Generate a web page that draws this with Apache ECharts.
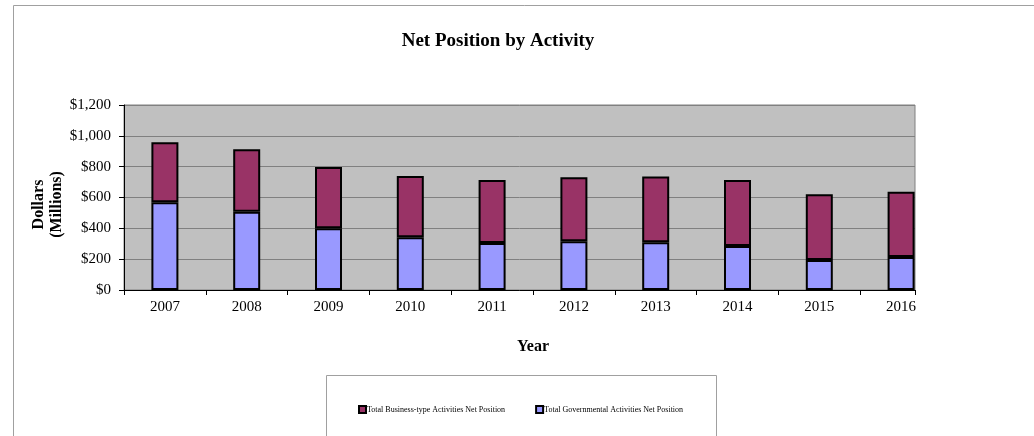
<!DOCTYPE html>
<html>
<head>
<meta charset="utf-8">
<script src="https://cdn.jsdelivr.net/npm/echarts@6/dist/echarts.min.js"></script>
<style>
  html, body { margin: 0; padding: 0; background: #fff; }
  #chart { width: 1034px; height: 436px; }
</style>
</head>
<body>
<div id="chart"></div>
<script>
// Fiscal years on the category axis
const years = ['2007', '2008', '2009', '2010', '2011', '2012', '2013', '2014', '2015', '2016'];
// Net position in millions of dollars
const governmental = [569, 508, 400, 342, 305, 316, 309, 285, 195, 214];
const businessType = [389, 405, 398, 397, 408, 415, 428, 428, 426, 424];

const seriesNames = {
  business: 'Total Business-type Activities Net Position',
  governmental: 'Total Governmental Activities Net Position'
};

// The shaded plot area stops part-way through the last year band
const shadedBands = 9.67;

const serif = '"Liberation Serif", "Times New Roman", serif';
const plotTop = 105, plotBottom = 146, plotLeft = 124;

const chart = echarts.init(document.getElementById('chart'), null, { renderer: 'canvas' });

chart.setOption({
  animation: false,
  backgroundColor: '#ffffff',
  textStyle: { fontFamily: serif, color: '#000' },
  title: {
    text: 'Net Position by Activity',
    left: 493,
    textAlign: 'center',
    top: 27,
    textStyle: { fontFamily: serif, fontSize: 19, fontWeight: 'bold', color: '#000' }
  },
  graphic: [
    {
      type: 'rect',
      silent: true,
      z: -10,
      shape: { x: 13.5, y: 5.5, width: 1040, height: 500 },
      style: { fill: 'none', stroke: '#a0a0a0', lineWidth: 1 }
    },
    {
      type: 'rect',
      silent: true,
      z: -5,
      shape: { x: 326.5, y: 375.5, width: 390, height: 80 },
      style: { fill: '#fff', stroke: '#a0a0a0', lineWidth: 1 }
    }
  ],
  legend: {
    data: [seriesNames.business, seriesNames.governmental],
    left: 353,
    top: 400,
    itemWidth: 7,
    itemHeight: 7,
    itemGap: 30,
    icon: 'rect',
    textStyle: { fontFamily: serif, fontSize: 8, color: '#000', padding: [0, 0, 0, -4] }
  },
  grid: [
    // shaded plot frame with value gridlines
    {
      left: plotLeft, right: 119, top: plotTop, bottom: plotBottom,
      show: true, backgroundColor: '#c0c0c0', borderColor: '#808080', borderWidth: 1
    },
    // year bands holding the stacked bars
    {
      left: plotLeft, right: 92, top: plotTop, bottom: plotBottom, show: false
    }
  ],
  xAxis: [
    {
      gridIndex: 0,
      type: 'value',
      min: 0,
      max: shadedBands,
      interval: 1,
      axisLine: { show: true, onZero: false, lineStyle: { color: '#000', width: 1 } },
      axisTick: { show: true, length: 5, lineStyle: { color: '#000' } },
      axisLabel: { show: false },
      splitLine: { show: false }
    },
    {
      gridIndex: 1,
      type: 'category',
      data: years,
      name: 'Year',
      nameLocation: 'middle',
      nameGap: 49,
      nameMoveOverlap: false,
      nameTextStyle: { fontFamily: serif, fontSize: 16, fontWeight: 'bold', color: '#000' },
      axisLine: { show: false },
      axisTick: { show: false },
      axisLabel: { fontFamily: serif, fontSize: 15, color: '#000', margin: 10 },
      splitLine: { show: false }
    }
  ],
  yAxis: [
    {
      gridIndex: 0,
      type: 'value',
      min: 0,
      max: 1200,
      interval: 200,
      name: 'Dollars\n(Millions)',
      nameLocation: 'middle',
      nameRotate: 90,
      nameGap: 58,
      nameMoveOverlap: false,
      nameTextStyle: {
        fontFamily: serif, fontSize: 16, fontWeight: 'bold', color: '#000',
        lineHeight: 18, padding: [0, 14, 0, 0]
      },
      axisLine: { show: true, lineStyle: { color: '#000', width: 1 } },
      axisTick: { show: true, length: 5, lineStyle: { color: '#000' } },
      axisLabel: {
        fontFamily: serif, fontSize: 15, color: '#000', margin: 13,
        formatter: v => '$' + v.toLocaleString('en-US')
      },
      splitLine: { show: true, lineStyle: { color: '#808080', width: 1 } }
    },
    {
      gridIndex: 1,
      type: 'value',
      min: 0,
      max: 1200,
      show: false,
      splitLine: { show: false }
    }
  ],
  series: [
    {
      name: seriesNames.governmental,
      type: 'bar',
      xAxisIndex: 1,
      yAxisIndex: 1,
      stack: 'net',
      data: governmental,
      barWidth: 27,
      itemStyle: { color: '#9999ff', borderColor: '#000', borderWidth: 2 }
    },
    {
      name: seriesNames.business,
      type: 'bar',
      xAxisIndex: 1,
      yAxisIndex: 1,
      stack: 'net',
      data: businessType,
      barWidth: 27,
      itemStyle: { color: '#993366', borderColor: '#000', borderWidth: 2 }
    }
  ]
});
</script>
</body>
</html>
